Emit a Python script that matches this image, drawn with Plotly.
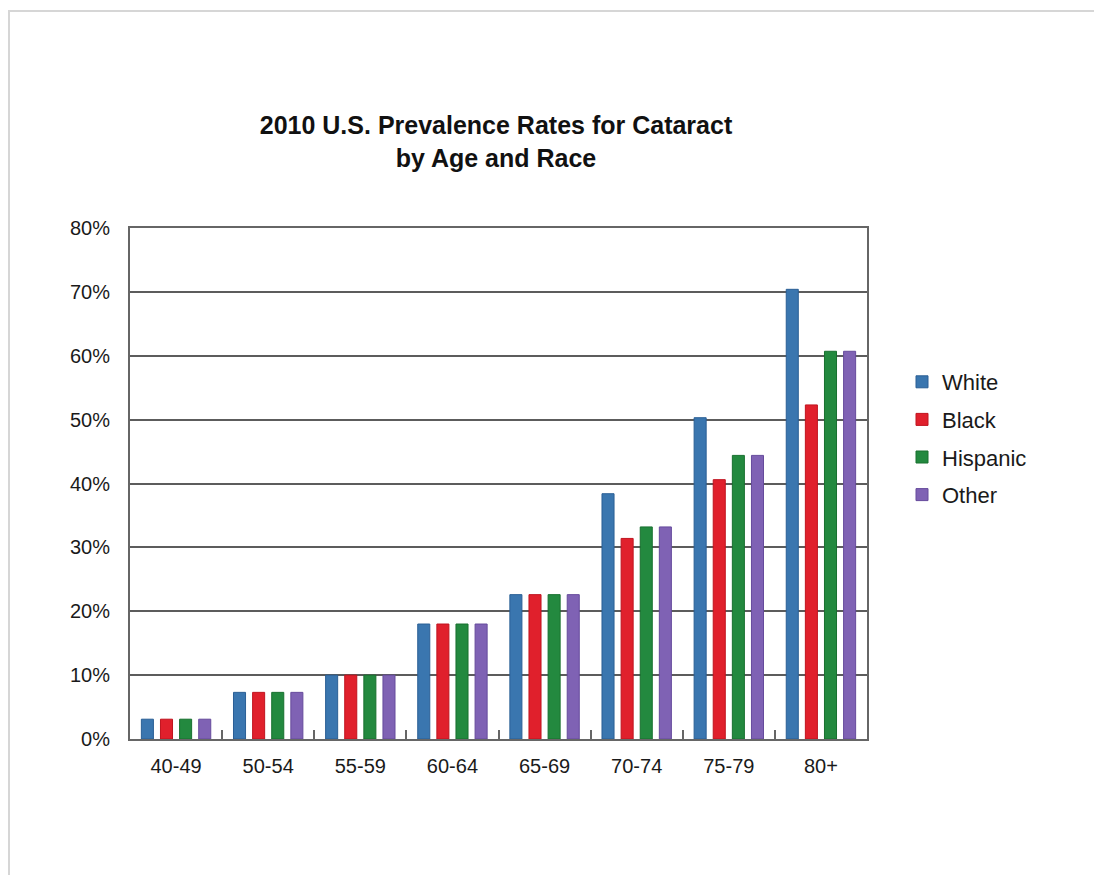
import plotly.graph_objects as go

age_groups = ["40-49", "50-54", "55-59", "60-64", "65-69", "70-74", "75-79", "80+"]
white = [3.1, 7.3, 10.0, 18.0, 22.6, 38.4, 50.3, 70.4]
black = [3.1, 7.3, 10.0, 18.0, 22.6, 31.4, 40.6, 52.3]
hispanic = [3.1, 7.3, 10.0, 18.0, 22.6, 33.2, 44.4, 60.7]
other = [3.1, 7.3, 10.0, 18.0, 22.6, 33.2, 44.4, 60.7]
series_names = ["White", "Black", "Hispanic", "Other"]
fill_colors = ["#3a76af", "#e0202c", "#23893f", "#7f62b4"]
edge_colors = ["#2a5f95", "#c0141f", "#18702f", "#664b9c"]
y_ticks = [0, 10, 20, 30, 40, 50, 60, 70, 80]

W, H = 1094, 875
ML, MR, MT, MB = 130, 227, 228, 136
PW, PH = W - ML - MR, H - MT - MB

FONT = "Liberation Sans, Arial, Helvetica, sans-serif"

fig = go.Figure()
for name, vals, fc, ec in zip(series_names, [white, black, hispanic, other], fill_colors, edge_colors):
    fig.add_trace(go.Bar(
        x=age_groups, y=vals, name=name, legendgroup=name,
        marker=dict(color=fc, line=dict(color=ec, width=1)),
        hoverinfo="x+y+name",
    ))

def px_x(p):
    return (p - ML) / PW

def px_y(p):
    return (H - MB - p) / PH

fig.update_layout(
    width=W, height=H,
    margin=dict(l=ML, r=MR, t=MT, b=MB),
    paper_bgcolor="white", plot_bgcolor="white",
    barmode="group", bargap=0.17, bargroupgap=0.37,
    font=dict(family=FONT, color="#1a1a1a"),
    title=dict(
        text="<b>2010 U.S. Prevalence Rates for Cataract<br>by Age and Race</b>",
        x=px_x(496), xref="paper", xanchor="center",
        y=1 - 134 / H, yref="container", yanchor="middle",
        font=dict(size=25, color="#111111", family=FONT),
    ),
    legend=dict(
        x=px_x(902), xanchor="left", y=px_y(361), yanchor="top",
        font=dict(size=22, color="#1a1a1a"),
        tracegroupgap=6, bgcolor="rgba(0,0,0,0)",
    ),
    showlegend=True,
    shapes=[
        dict(type="line", xref="paper", yref="paper",
             x0=px_x(9), x1=px_x(9), y0=px_y(10), y1=px_y(H + 5),
             line=dict(color="#d6d6d6", width=2)),
        dict(type="line", xref="paper", yref="paper",
             x0=px_x(8), x1=px_x(W + 5), y0=px_y(11), y1=px_y(11),
             line=dict(color="#d6d6d6", width=2)),
    ],
)

fig.update_xaxes(
    type="category", categoryorder="array", categoryarray=age_groups,
    showline=True, linecolor="#666666", linewidth=2, mirror=True,
    showgrid=False, tickson="boundaries", ticks="inside", ticklen=9,
    tickwidth=1.5, tickcolor="#666666",
    tickfont=dict(size=20, color="#1a1a1a"), ticklabelstandoff=8,
    zeroline=False,
)
fig.update_yaxes(
    range=[0, 80], tickvals=y_ticks, ticktext=[f"{v}%" for v in y_ticks],
    showline=True, linecolor="#666666", linewidth=2, mirror=True,
    showgrid=True, gridcolor="#5c5c5c", gridwidth=1.5,
    ticks="", tickfont=dict(size=20, color="#1a1a1a"), ticklabelstandoff=14,
    zeroline=False,
)

fig.write_html("out.html")
